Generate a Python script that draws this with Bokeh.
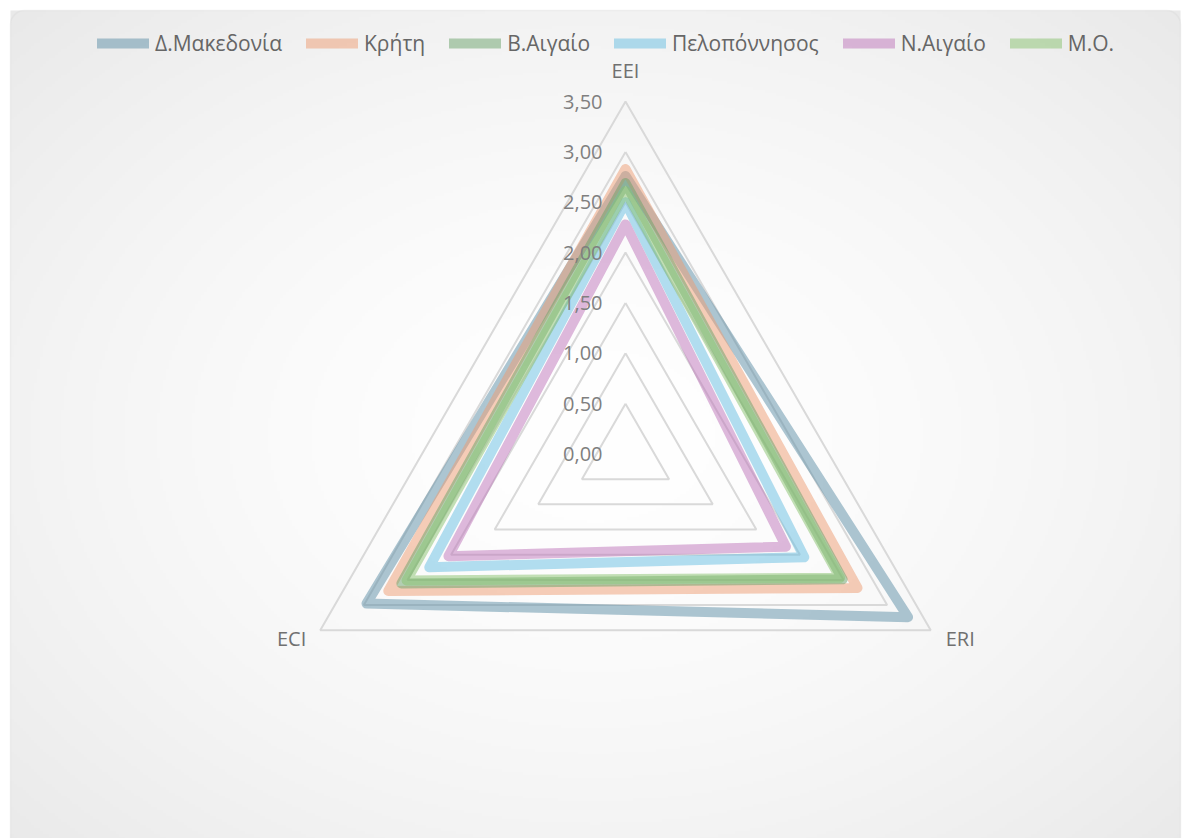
import numpy as np
from bokeh.plotting import figure
from bokeh.models import Range1d, Legend, LegendItem, BoxAnnotation
from bokeh.core.properties import value
from bokeh.embed import file_html
from bokeh.resources import INLINE

# ---------------- data ----------------
axes_labels = ["EEI", "ERI", "ECI"]
series_names = ["Δ.Μακεδονία", "Κρήτη", "Β.Αιγαίο", "Πελοπόννησος", "Ν.Αιγαίο", "Μ.Ο."]
d_makedonia = [2.76, 3.24, 2.97]
kriti = [2.83, 2.66, 2.72]
v_aigaio = [2.69, 2.49, 2.57]
peloponnisos = [2.50, 2.05, 2.25]
n_aigaio = [2.28, 1.84, 2.03]
mo = [2.61, 2.46, 2.51]
levels = [0.0, 0.5, 1.0, 1.5, 2.0, 2.5, 3.0, 3.5]
tick_labels = ["0,00", "0,50", "1,00", "1,50", "2,00", "2,50", "3,00", "3,50"]

series_values = [d_makedonia, kriti, v_aigaio, peloponnisos, n_aigaio, mo]
colors = ["#5b8da5", "#ed9b71", "#69a169", "#65bde1", "#bd73b9", "#87c16d"]

# ---------------- geometry / styling ----------------
W, H = 1186, 838
S = 100.7              # px per unit
CX, CY = 625.0, 453.5  # centre in figure px
angles = np.deg2rad([90.0, -30.0, 210.0])

def px2x(px):
    return (px - CX) / S

def px2y(py):
    return (CY - py) / S

p = figure(width=W, height=H, output_backend="svg", toolbar_location=None,
           x_range=Range1d(-CX / S, (W - CX) / S),
           y_range=Range1d(-(H - CY) / S, CY / S),
           min_border=0, background_fill_color="white", border_fill_color="white")
p.axis.visible = False
p.grid.visible = False
p.outline_line_color = None

# background radial gradient inside the chart box
bl, br, bt, bb = 10, 1180, 10, 860
nx, ny = 400, 290
gx = np.linspace(-1, 1, nx)
gy = np.linspace(-1, 1, ny)
GX, GY = np.meshgrid(gx, gy)
r = np.sqrt(GX ** 2 + GY ** 2) / np.sqrt(2)
g = np.clip(255 - 22 * r ** 1.6, 0, 255).astype(np.uint32)
img = (255 << 24) | (g << 16) | (g << 8) | g
p.image_rgba(image=[img.astype(np.uint32)], x=px2x(bl), y=px2y(bb),
             dw=(br - bl) / S, dh=(bb - bt) / S)

p.add_layout(BoxAnnotation(left=px2x(bl), right=px2x(br), top=px2y(bt), bottom=px2y(bb),
                           fill_alpha=0, line_color="#d4d4d4", line_width=1.5,
                           border_radius=14))

# grid triangles
for lv in levels[1:]:
    xs = list(lv * np.cos(angles)) + [lv * np.cos(angles[0])]
    ys = list(lv * np.sin(angles)) + [lv * np.sin(angles[0])]
    p.line(xs, ys, line_color="#d9d9d9", line_width=2)

# series
items = []
for name, vals, col in zip(series_names, series_values, colors):
    v = np.array(vals + [vals[0]])
    a = np.concatenate([angles, angles[:1]])
    r_ = p.line(v * np.cos(a), v * np.sin(a), line_color=col, line_alpha=0.5,
                line_width=10, line_join="round", line_cap="round")
    items.append(LegendItem(label=name, renderers=[r_]))

# tick labels (drawn over the series, as in the original)
p.text(x=[px2x(602)] * len(levels), y=levels, text=tick_labels,
       text_align="right", text_baseline="middle",
       text_font=value("Open Sans"), text_font_size="20px", text_color="#7f7f7f")

# category labels
vmax = levels[-1]
cat_x = list(vmax * np.cos(angles))
cat_y = list(vmax * np.sin(angles))
lab_kw = dict(text_font=value("Open Sans"), text_font_size="20px", text_color="#707070",
              text_baseline="middle")
p.text(x=[cat_x[0]], y=[cat_y[0]], text=[axes_labels[0]], text_align="center",
       y_offset=-31, **lab_kw)
p.text(x=[cat_x[1]], y=[cat_y[1]], text=[axes_labels[1]], text_align="left",
       x_offset=15, y_offset=8, **lab_kw)
p.text(x=[cat_x[2]], y=[cat_y[2]], text=[axes_labels[2]], text_align="right",
       x_offset=-14, y_offset=8, **lab_kw)

legend = Legend(items=items, orientation="horizontal", location=(97, H - 37 - 20),
                glyph_width=52, glyph_height=20, label_height=20, label_standoff=6,
                spacing=24, padding=0, margin=0,
                label_text_font="Open Sans", label_text_font_size="21px",
                label_text_color="#666666", border_line_color=None,
                background_fill_alpha=0)
p.add_layout(legend, "center")

open("out.html", "w").write(file_html(p, INLINE))
